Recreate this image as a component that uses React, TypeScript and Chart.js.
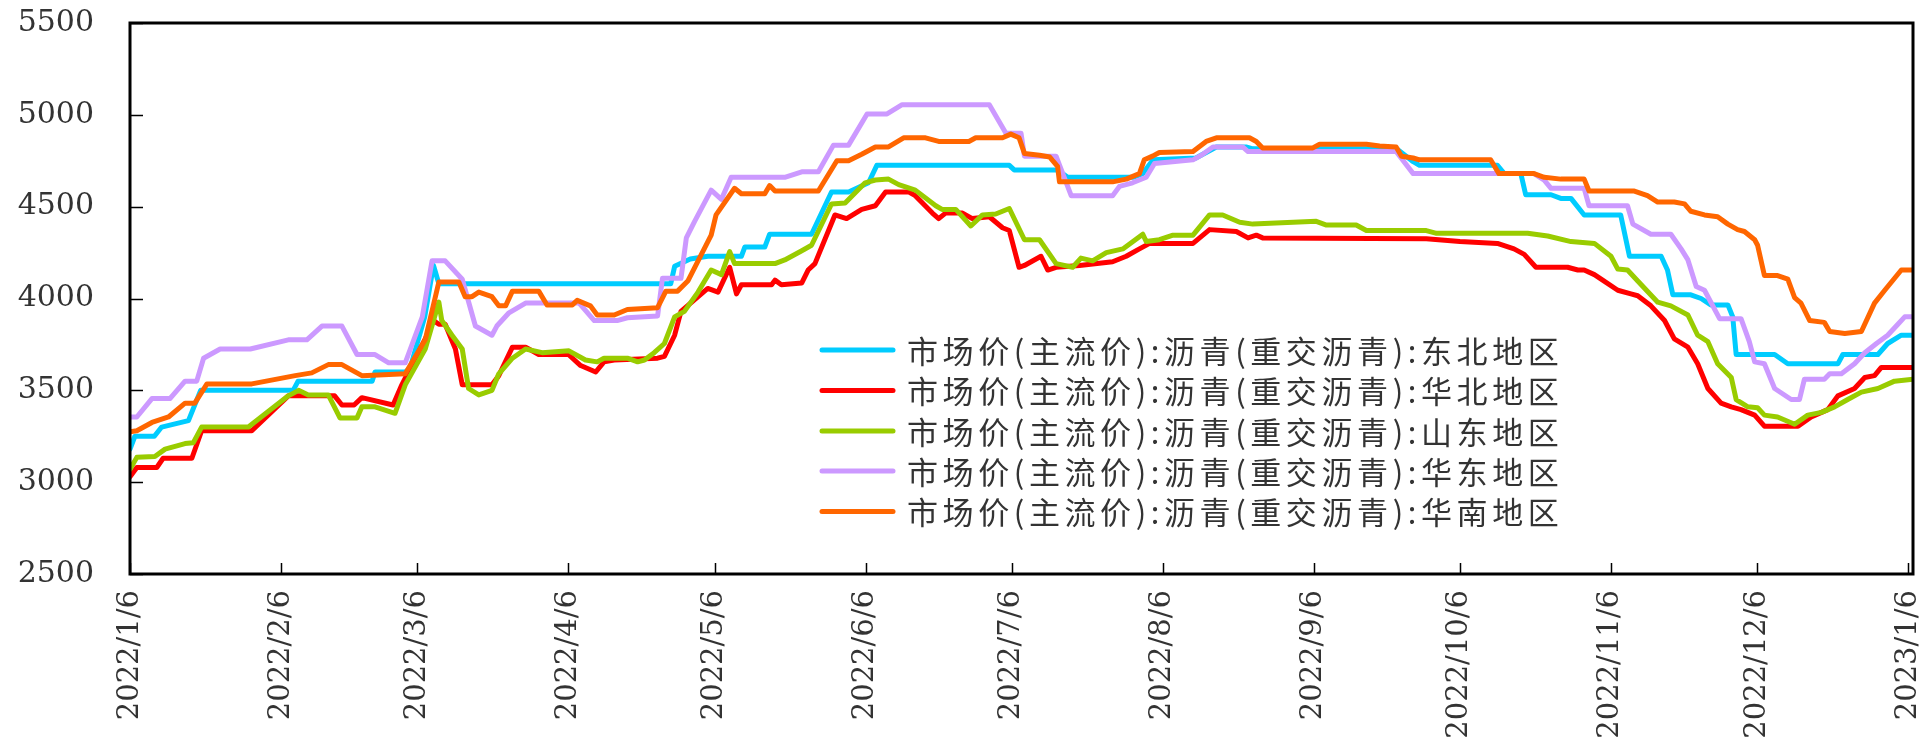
import React, { useEffect, useRef } from "react";
import { Chart, registerables } from "chart.js";

Chart.register(...registerables);

// Monthly tick labels on the date axis
const tickLabels = [
  "2022/1/6", "2022/2/6", "2022/3/6", "2022/4/6", "2022/5/6", "2022/6/6", "2022/7/6",
  "2022/8/6", "2022/9/6", "2022/10/6", "2022/11/6", "2022/12/6", "2023/1/6",
];

const seriesNames = [
  "市场价(主流价):沥青(重交沥青):东北地区",
  "市场价(主流价):沥青(重交沥青):华北地区",
  "市场价(主流价):沥青(重交沥青):山东地区",
  "市场价(主流价):沥青(重交沥青):华东地区",
  "市场价(主流价):沥青(重交沥青):华南地区",
];
const seriesColors = ["#00CCFF", "#FF0000", "#99CC00", "#CC99FF", "#FF6600"];

// [days since 2022/1/6, price]
const dongbei: [number, number][] = [
  [0, 3180], [1, 3250], [5, 3250], [6.5, 3300], [12, 3335], [14.5, 3500], [33.5, 3500], [34.5, 3550],
  [49.7, 3550], [50.3, 3600], [56.5, 3600], [57.5, 3620], [60.5, 3900], [62.3, 4180], [63.4, 4080],
  [111, 4080], [111.8, 4175], [115, 4215], [118.6, 4230], [125.5, 4230], [126.2, 4280], [130.3, 4280],
  [131.3, 4350], [139.9, 4350], [144, 4580], [147.5, 4580], [151.6, 4630], [153.3, 4725], [180.5, 4725],
  [181.5, 4700], [190.4, 4700], [192.5, 4660], [206, 4660], [207.9, 4680], [210, 4755], [218.8, 4765],
  [220.9, 4795], [223, 4825], [229.1, 4825], [230.5, 4815], [260, 4815], [263.4, 4745], [264.7, 4725],
  [280.7, 4725], [282.1, 4680], [285.5, 4680], [286.5, 4565], [291.7, 4565], [293.7, 4545], [295.8, 4545],
  [298.5, 4455], [306, 4455], [307.8, 4230], [314.3, 4230], [315.6, 4155], [316.7, 4020], [320.4, 4020],
  [322.5, 4000], [324.5, 3965], [328, 3965], [329, 3900], [329.7, 3695], [337.6, 3695], [340.3, 3645],
  [350.6, 3645], [351.6, 3695], [358.8, 3695], [360.8, 3755], [363.6, 3800], [366, 3800],
];

const huabei: [number, number][] = [
  [0, 3030], [1.4, 3080], [5.5, 3080], [6.8, 3130], [12.7, 3130], [14.7, 3280], [25, 3280], [32.5, 3470],
  [42, 3470], [43.5, 3420], [46, 3420], [47.6, 3460], [54, 3420], [55.8, 3530], [60.6, 3780], [62.3, 3880],
  [63.4, 3860], [64.7, 3860], [66.8, 3725], [68.2, 3530], [74.3, 3530], [75.7, 3580], [78.5, 3735],
  [81.2, 3735], [83.9, 3695], [90, 3695], [92.5, 3635], [95.6, 3600], [97.3, 3655], [99.4, 3665],
  [108.3, 3675], [109.7, 3685], [111.8, 3800], [113.1, 3930], [118.6, 4055], [120.7, 4035], [123.1, 4170],
  [124.5, 4025], [125.5, 4075], [131.7, 4075], [132.4, 4100], [133.7, 4075], [137.9, 4085], [139.2, 4155],
  [140.6, 4190], [144.7, 4455], [147.1, 4435], [150.2, 4485], [153, 4505], [155.1, 4580], [159.9, 4580],
  [161.2, 4560], [164.7, 4465], [166, 4435], [167.4, 4465], [170.9, 4465], [172.9, 4435], [176.4, 4445],
  [179.1, 4385], [180.5, 4370], [182.5, 4170], [183.6, 4180], [187, 4230], [188.4, 4155], [190.1, 4170],
  [194.9, 4180], [201.7, 4200], [204.5, 4230], [207.2, 4270], [209.3, 4300], [218.2, 4300], [221.6, 4375],
  [227.1, 4365], [229.5, 4330], [231.2, 4345], [232.5, 4330], [266.1, 4325], [273, 4310], [280.7, 4300],
  [284.1, 4270], [286.2, 4240], [288.6, 4170], [295.1, 4170], [297.2, 4155], [298.5, 4155], [300.6, 4130],
  [302.6, 4095], [305.4, 4045], [308.1, 4025], [309.5, 4015], [312.2, 3960], [315, 3880], [317, 3780],
  [319.8, 3735], [321.8, 3645], [323.9, 3510], [326.6, 3430], [328.7, 3410], [330.7, 3395], [333.5, 3365],
  [335.5, 3305], [342.4, 3305], [345.1, 3355], [348.5, 3395], [350.6, 3470], [354, 3510], [356.1, 3570],
  [358.1, 3580], [359.5, 3625], [366, 3625],
];

const shandong: [number, number][] = [
  [0, 3070], [1.4, 3135], [5.1, 3140], [7.2, 3180], [11.3, 3210], [13, 3215], [14.7, 3300], [24.3, 3300],
  [32.5, 3470], [34.6, 3500], [36.6, 3475], [40.7, 3475], [43.1, 3350], [46.6, 3350], [47.6, 3410],
  [50.3, 3410], [54.4, 3375], [56.5, 3530], [60.6, 3725], [63.4, 3980], [64, 3880], [66.1, 3800],
  [68.2, 3725], [69.5, 3510], [71.6, 3475], [74.3, 3500], [75.7, 3590], [78.5, 3675], [81.2, 3725],
  [84.6, 3705], [90.1, 3715], [93.5, 3665], [95.9, 3655], [97.3, 3675], [102.1, 3675], [104.2, 3655],
  [105.6, 3665], [107.6, 3705], [109.7, 3755], [111.8, 3900], [113.8, 3930], [116.6, 4035], [119.3, 4155],
  [121.4, 4130], [123.1, 4255], [124.1, 4190], [132.4, 4190], [134.4, 4210], [137.9, 4260], [139.9, 4290],
  [144, 4515], [146.8, 4520], [150.9, 4630], [153, 4645], [155.7, 4650], [157.8, 4620], [161.2, 4590],
  [165.4, 4505], [166.7, 4485], [169.5, 4485], [172.6, 4395], [175, 4455], [177.7, 4460], [180.5, 4490],
  [183.6, 4320], [186.7, 4320], [190.1, 4190], [193.5, 4170], [195.2, 4220], [197.6, 4205], [200.4, 4250],
  [203.8, 4270], [207.9, 4350], [208.6, 4310], [211.3, 4320], [214.1, 4345], [218.2, 4345], [221.6, 4455],
  [224.3, 4455], [227.8, 4415], [230.5, 4405], [243.5, 4420], [245.6, 4400], [251.7, 4400], [253.8, 4370],
  [266.1, 4370], [268.2, 4355], [286.9, 4355], [291, 4340], [295.8, 4310], [300.6, 4300], [304, 4230],
  [305.4, 4160], [307.4, 4155], [309.5, 4095], [313.6, 3980], [316.3, 3960], [319.8, 3910], [321.8, 3800],
  [323.9, 3765], [325.9, 3645], [328.7, 3570], [329.7, 3450], [332.1, 3410], [334.1, 3405], [335.5, 3365],
  [338.2, 3355], [341.7, 3315], [344.4, 3365], [347.2, 3380], [349.9, 3410], [352.6, 3450], [355.4, 3490],
  [358.8, 3510], [362.2, 3550], [366, 3560],
];

const huadong: [number, number][] = [
  [0, 3355], [1.4, 3355], [4.5, 3455], [8.2, 3455], [11.3, 3550], [13.7, 3550], [15.1, 3675], [18.5, 3725],
  [24.7, 3725], [32.5, 3775], [36.3, 3775], [39.4, 3850], [43.5, 3850], [46.6, 3695], [50.3, 3695],
  [53.1, 3650], [56.5, 3650], [60, 3900], [62, 4205], [64.7, 4205], [68.2, 4105], [70.9, 3850], [74.3, 3800],
  [75.3, 3850], [77.7, 3920], [81.2, 3975], [92.2, 3975], [95.3, 3880], [100, 3880], [102.1, 3895],
  [108.3, 3905], [109.3, 4110], [113.1, 4110], [114.2, 4330], [115.9, 4420], [119.3, 4590], [121.4, 4540],
  [123.4, 4660], [134.4, 4660], [137.9, 4690], [141.3, 4690], [144.4, 4835], [147.5, 4835], [151.3, 5005],
  [155.4, 5005], [158.5, 5055], [176.4, 5055], [179.8, 4900], [182.9, 4900], [183.6, 4775], [190.1, 4775],
  [193.2, 4560], [201.7, 4560], [203.1, 4610], [205.8, 4630], [208.6, 4660], [210.3, 4735], [218.2, 4755],
  [220.2, 4785], [222.3, 4825], [228.4, 4825], [229.5, 4800], [259.9, 4800], [263.4, 4680], [288.2, 4680],
  [290.3, 4645], [291.7, 4600], [298.5, 4600], [299.5, 4505], [307.4, 4505], [308.5, 4405], [312.2, 4350],
  [316.3, 4350], [318.4, 4270], [319.8, 4210], [321.5, 4065], [323.2, 4045], [326.3, 3890], [330.7, 3890],
  [332.4, 3765], [333.5, 3655], [335.5, 3645], [337.6, 3510], [341, 3450], [342.7, 3450], [343.7, 3560],
  [347.8, 3560], [348.9, 3590], [351.3, 3590], [354, 3645], [356.1, 3705], [358.5, 3755], [360.8, 3800],
  [362.9, 3860], [364.3, 3900], [366, 3900],
];

const huanan: [number, number][] = [
  [0, 3275], [1.4, 3280], [4.5, 3325], [7.9, 3355], [11.3, 3430], [13.3, 3430], [15.8, 3535], [25, 3535],
  [33.9, 3580], [37.3, 3595], [40.7, 3640], [43.5, 3640], [47.6, 3580], [56.5, 3590], [60.6, 3775],
  [63.4, 4090], [67.5, 4090], [68.8, 4010], [70.2, 4010], [71.6, 4035], [74.3, 4010], [75.7, 3960],
  [77.1, 3960], [78.5, 4040], [83.9, 4040], [85.6, 3965], [90.8, 3965], [91.8, 3990], [94.5, 3960],
  [95.9, 3910], [99.4, 3910], [102.1, 3940], [108.3, 3950], [110, 4040], [112.4, 4040], [114.5, 4095],
  [119.3, 4345], [120.3, 4455], [124.1, 4600], [125.5, 4570], [130.3, 4570], [131.3, 4615], [132.4, 4585],
  [141.3, 4585], [145.1, 4750], [147.5, 4750], [150.2, 4785], [153, 4825], [155.7, 4825], [158.8, 4875],
  [163.3, 4875], [166, 4855], [172.2, 4855], [173.6, 4875], [179.1, 4875], [180.8, 4895], [182.5, 4875],
  [183.6, 4790], [186.7, 4780], [188.8, 4770], [190.4, 4720], [190.8, 4635], [201.7, 4635], [204.5, 4650],
  [207.2, 4680], [208.2, 4755], [209.9, 4775], [211.3, 4795], [218.2, 4800], [220.9, 4855], [223, 4875],
  [229.8, 4875], [231.2, 4855], [232.5, 4820], [242.8, 4820], [244.2, 4840], [253.8, 4840], [256.5, 4830],
  [259.9, 4825], [261, 4775], [263.4, 4765], [264.7, 4755], [279.3, 4755], [281, 4680], [288.2, 4680],
  [290.3, 4660], [293.7, 4650], [298.5, 4650], [299.5, 4585], [308.8, 4585], [311.5, 4560], [313.6, 4525],
  [317, 4525], [319.1, 4515], [320.4, 4475], [323.2, 4455], [325.9, 4445], [328, 4405], [330, 4375],
  [331.4, 4365], [333.5, 4320], [334.1, 4290], [335.5, 4125], [338.2, 4125], [340.3, 4105], [341.7, 4005],
  [343, 3975], [344.8, 3880], [347.8, 3870], [348.9, 3820], [352, 3810], [355.4, 3820], [358.1, 3975],
  [360.2, 4045], [363.6, 4155], [366, 4155],
];

const seriesData = [dongbei, huabei, shandong, huadong, huanan];

const START = Date.UTC(2022, 0, 6);
function dayOf(label: string): number {
  const [y, m, d] = label.split("/").map(Number);
  return Math.round((Date.UTC(y, m - 1, d) - START) / 86400000);
}
const tickDays = tickLabels.map(dayOf);

const framePlugin = {
  id: "frameTicks",
  afterDraw(chart: any) {
    const { ctx, chartArea } = chart;
    const { left, right, top, bottom } = chartArea;
    const xs = chart.scales.x;
    const ys = chart.scales.y;
    ctx.save();
    ctx.strokeStyle = "#000";
    ctx.lineWidth = 1.5;
    ctx.beginPath();
    ys.ticks.forEach((t: any) => {
      const y = Math.round(ys.getPixelForValue(t.value)) + 0.5;
      ctx.moveTo(left, y);
      ctx.lineTo(left + 13, y);
    });
    tickDays.forEach((d) => {
      const x = Math.round(xs.getPixelForValue(d)) + 0.5;
      ctx.moveTo(x, bottom);
      ctx.lineTo(x, bottom - 11);
    });
    ctx.stroke();
    ctx.lineWidth = 3;
    ctx.strokeRect(left, top, right - left, bottom - top);
    ctx.restore();
  },
};

const legendPlugin = {
  id: "insideLegend",
  afterDraw(chart: any) {
    const { ctx } = chart;
    ctx.save();
    const rowY = [350, 390.5, 431, 471, 511.5];
    chart.data.datasets.forEach((ds: any, i: number) => {
      const y = rowY[i];
      ctx.strokeStyle = ds.borderColor;
      ctx.lineWidth = 5;
      ctx.lineCap = "round";
      ctx.beginPath();
      ctx.moveTo(822, y);
      ctx.lineTo(893, y);
      ctx.stroke();
      ctx.fillStyle = "#333";
      ctx.font = '31px "Noto Sans CJK SC"';
      (ctx as any).letterSpacing = "4.6px";
      ctx.textBaseline = "middle";
      ctx.textAlign = "left";
      ctx.fillText(ds.label, 907, y + 1);
    });
    ctx.restore();
  },
};

export default function App() {
  const ref = useRef<HTMLCanvasElement | null>(null);
  useEffect(() => {
    if (!ref.current) return;
    const chart = new Chart(ref.current, {
      type: "line",
      data: {
        datasets: seriesData.map((pts, i) => ({
          label: seriesNames[i],
          data: pts.map(([x, y]) => ({ x, y })),
          borderColor: seriesColors[i],
          backgroundColor: seriesColors[i],
          borderWidth: 5,
          pointRadius: 0,
          tension: 0,
          borderJoinStyle: "round" as const,
          borderCapStyle: "round" as const,
          order: seriesData.length - 1 - i,
        })),
      },
      options: {
        animation: false,
        responsive: true,
        maintainAspectRatio: false,
        layout: { padding: { top: 23, right: 18, left: 0, bottom: 0 } },
        plugins: { legend: { display: false }, tooltip: { enabled: false } },
        scales: {
          x: {
            type: "linear",
            min: 0,
            max: 366,
            grid: { display: false, drawTicks: false },
            border: { display: false },
            afterBuildTicks: (scale: any) => {
              scale.ticks = tickDays.map((v) => ({ value: v }));
            },
            afterFit: (scale: any) => {
              scale.height = 176;
              scale.paddingLeft = 0;
              scale.paddingRight = 0;
            },
            ticks: {
              autoSkip: false,
              maxRotation: 90,
              minRotation: 90,
              padding: 16,
              color: "#333",
              font: { family: "DejaVu Serif", size: 29 },
              callback: (_v: any, idx: number) => tickLabels[idx],
            },
          },
          y: {
            min: 2500,
            max: 5500,
            grid: { display: false, drawTicks: false },
            border: { display: false },
            afterFit: (scale: any) => {
              scale.width = 130;
              scale.paddingTop = 0;
              scale.paddingBottom = 0;
            },
            ticks: {
              stepSize: 500,
              padding: 36,
              color: "#333",
              font: { family: "DejaVu Serif", size: 30 },
              callback: (v: any) => String(v),
            },
          },
        },
      },
      plugins: [framePlugin, legendPlugin],
    });
    return () => chart.destroy();
  }, []);
  return (
    <div style={{ position: "fixed", left: 0, top: 0, width: 1931, height: 750, background: "#fff" }}>
      <canvas ref={ref} />
    </div>
  );
}
